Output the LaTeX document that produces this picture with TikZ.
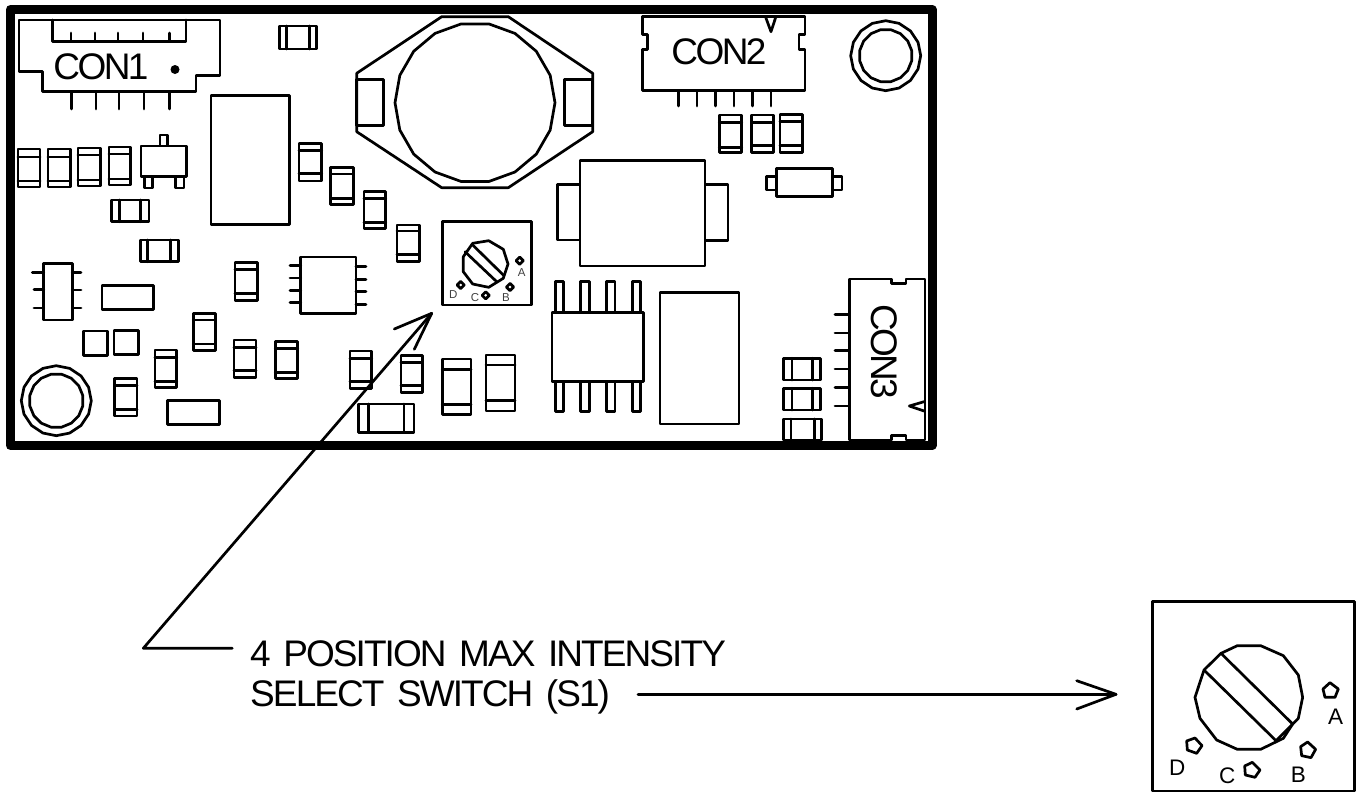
\documentclass[tikz,border=0pt]{standalone}
\usepackage{fontspec}
\setmainfont{Liberation Sans}
\newfontfamily\calloutfont[WordSpace=1.5,LetterSpace=-5.2]{Liberation Sans}
\newfontfamily\conlabelfont[LetterSpace=-7]{Liberation Sans}
\tikzset{
  part/.style={line width=2.7pt,line join=round,line cap=round},
  leader/.style={line width=2.7pt,line join=round,line cap=round},
  board/.style={line width=9pt,line join=round},
  biglabel/.style={inner sep=0pt,font=\conlabelfont\fontsize{37}{37}\selectfont},
  calllabel/.style={inner sep=0pt,anchor=base west,font=\calloutfont\fontsize{37}{37}\selectfont},
  smalllet/.style={inner sep=0pt,text=black!75,font=\fontsize{11.5}{12}\selectfont},
  largelet/.style={inner sep=0pt,font=\fontsize{22.5}{23}\selectfont}
}
\newcommand{\vchipx}[6]{\draw[part] (#1,#2) rectangle (#3,#4) (#1,#5) -- (#3,#5) (#1,#6) -- (#3,#6);}
\newcommand{\hchipx}[6]{\draw[part] (#1,#2) rectangle (#3,#4) (#5,#2) -- (#5,#4) (#6,#2) -- (#6,#4);}
\newcommand{\boxx}[4]{\draw[part] (#1,#2) rectangle (#3,#4);}
\newcommand{\ngon}[6]{\draw[#6] plot[domain=0:360,samples=#5,shift={(#1,#2)}] ({#3*cos(\x+#4)},{#3*sin(\x+#4)}) -- cycle;}
\begin{document}
\begin{tikzpicture}[x=1pt,y=-1pt]
\useasboundingbox (0,0) rectangle (1359,793);
% board
\draw[board] (10.5,9.5) rectangle (932,445.5);
% CON1
\draw[part] (19,20) -- (220,20) -- (220,75.5) -- (196,75.5) -- (196,91.5) -- (42.7,91.5) -- (42.7,71.7) -- (19,71.7) -- cycle;
\draw[part] (52.7,20) -- (52.7,41.7) -- (186,41.7) -- (186,20);
\foreach \p in {71,95,118,143,169.5} \draw[part] (\p,33) -- (\p,41);
\foreach \p in {71.5,96,119,144,169.5} \draw[part] (\p,92) -- (\p,109);
\fill (175,69.5) circle (4.5);
\node[biglabel,anchor=base] (con1) at (101,79) {CON1};
% left chips
\vchipx{18}{149}{40}{187}{157}{181}
\vchipx{48}{149}{70.5}{187}{157}{181}
\vchipx{78}{148}{100.5}{186}{155}{180}
\vchipx{109}{147}{130.5}{185}{154}{179}
\boxx{141}{146}{186.7}{176.7}
\boxx{160}{135}{167.7}{146}
\boxx{144.3}{176.7}{152.3}{188}
\boxx{175.7}{176.7}{184}{188}
\hchipx{111.7}{200}{149}{221.7}{119.3}{140.7}
\hchipx{279.3}{26}{316.7}{49}{286.7}{309.3}
\boxx{211}{95.3}{289.3}{224.3}
\vchipx{299}{143.3}{321.7}{181}{150.7}{173.3}
% battery holder
\draw[part] (441.7,16.7) -- (508.3,16.7) -- (592.7,73.3) -- (592.7,131.7) -- (508.3,187.7) -- (441.7,187.7) -- (356.7,131.7) -- (356.7,73.3) -- cycle;
\boxx{356.7}{79.3}{383.3}{125.7}
\boxx{564.3}{79.3}{592.7}{125.7}
\ngon{475}{102.7}{80}{0}{19}{part}
% diagonal chips
\vchipx{330.7}{167.3}{353.3}{204.3}{174}{198.3}
\vchipx{364}{191.7}{385.7}{228.3}{198.3}{222.3}
\vchipx{397}{225}{419.3}{261.7}{231}{254.3}
% small switch
\boxx{442.7}{221.7}{531.3}{305}
\draw[part] (472.7,243.3) -- (488.7,240.7) -- (503.3,249.3) -- (508,264) -- (503.3,278.3) -- (488.7,287.3) -- (472.7,284) -- (463.3,271.7) -- (463.3,256.7) -- cycle;
\draw[part] (472.7,245) -- (504,275.7) (465,251.7) -- (496.7,281.7);
\ngon{519.7}{260.7}{3.6}{0}{5}{part}
\ngon{460.7}{285}{3.6}{0}{5}{part}
\ngon{485.7}{295.3}{3.6}{0}{5}{part}
\ngon{510}{287}{3.6}{0}{5}{part}
\node[smalllet,anchor=base] (sa) at (521.7,276.5) {A};
\node[smalllet,anchor=base] (sd) at (453.3,298.5) {D};
\node[smalllet,anchor=base] (sc) at (475,301.5) {C};
\node[smalllet,anchor=base] (sb) at (506,301.5) {B};
% transformer
\boxx{557.3}{184.3}{580}{240}
\boxx{705}{184.3}{728}{240.5}
\boxx{580}{160.7}{705}{266}
% CON2
\draw[part] (642.3,16.7) -- (805,16.7) -- (805,34.3) -- (799,34.3) -- (799,49.3) -- (805,49.3) -- (805,90.7) -- (642.3,90.7) -- (642.3,49.3) -- (647.7,49.3) -- (647.7,34.3) -- (642.3,34.3) -- cycle;
\draw[part] (765.7,17.3) -- (771,31.7) -- (775.7,17.3);
\foreach \p in {678.7,697,715.7,734,752.7,771} \draw[part] (\p,91) -- (\p,106);
\node[biglabel,anchor=base] (con2) at (719,64) {CON2};
\vchipx{719.3}{115}{741.7}{152.7}{122.3}{147.3}
\vchipx{751.7}{115}{773.3}{152.7}{122.3}{145.7}
\vchipx{780}{114.3}{802.3}{152.3}{121.7}{145.7}
% diode
\boxx{766.7}{176.7}{776.7}{190}
\boxx{832.7}{176.7}{842}{190}
\boxx{776.7}{168.3}{832.7}{196.7}
% mount holes
\ngon{885.7}{55.7}{35}{90}{17}{part}
\ngon{885.7}{55.7}{26.5}{11.25}{17}{part}
\ngon{56.3}{400.7}{35}{90}{17}{part}
\ngon{56.3}{400.7}{27}{11.25}{17}{part}
% lower-left
\hchipx{140.3}{240}{178.3}{261.7}{147.7}{170.7}
\boxx{43.7}{263.3}{72.3}{320}
\foreach \p/\q in {32.3/272.3,34/289.3,34/308} \draw[part] (\p,\q) -- (43.7,\q);
\foreach \q in {272.3,290,308} \draw[part] (72.3,\q) -- (81,\q);
\boxx{102}{285.3}{153.7}{309.3}
\vchipx{235}{262.7}{257.3}{300.3}{269.3}{293.3}
\boxx{300.7}{257}{356}{313.3}
\foreach \q in {265.3,278,290.7,302.7} \draw[part] (290,\q) -- (300.7,\q);
\foreach \q in {266.7,279.3,291.7,304.3} \draw[part] (356,\q) -- (366,\q);
\boxx{83.3}{331}{107.7}{355.3}
\boxx{114}{330.3}{138.3}{354.7}
\vchipx{193.3}{313.3}{215.3}{350.7}{320}{344}
\vchipx{155}{350}{176.7}{387.7}{357.3}{381.7}
\vchipx{234}{340}{256}{377.3}{347.3}{370.7}
\vchipx{275.3}{341.3}{297.7}{378.7}{348.3}{372.7}
\vchipx{114.7}{378.3}{137}{416}{385.7}{409.3}
\boxx{167.7}{400.3}{219.7}{424.3}
% lower centre
\vchipx{350}{351}{371.7}{388.3}{358.3}{381.7}
\vchipx{401}{355.7}{422.3}{392.3}{362.3}{385.7}
\vchipx{442.3}{359}{471}{414.3}{369.3}{404.3}
\vchipx{486}{355}{515}{411}{365}{400.7}
\hchipx{358.3}{404}{414}{432.3}{368.3}{404}
% SOIC
\foreach \a/\b in {555.7/563.3,580.7/589.3,606.7/615,632.7/640.7} {
  \boxx{\a}{281.7}{\b}{312.3}
  \boxx{\a}{381.7}{\b}{411.7}
}
\boxx{552}{312.3}{643.3}{381.7}
\boxx{660}{292.7}{739}{424}
% CON3
\draw[part] (849.3,279) -- (891.7,279) -- (891.7,283.3) -- (906,283.3) -- (906,279) -- (925,279) -- (925,440) -- (906,440) -- (906,435.7) -- (891.7,435.7) -- (891.7,440) -- (849.3,440) -- cycle;
\foreach \q in {314.3,333,350.7,369,387.7,406} \draw[part] (835,\q) -- (849.3,\q);
\draw[part] (924,401.7) -- (909.3,406) -- (924,411);
\node[biglabel,anchor=base,rotate=-90] (con3) at (871.7,351.7) {CON3};
\hchipx{783.3}{358.3}{820.7}{380}{792}{812.7}
\hchipx{783.3}{388.3}{820.7}{410}{792}{812.7}
\hchipx{783.3}{419}{821.7}{440}{791}{814.3}
% callout
\node[calllabel] (l1) at (250,666) {4 POSITION MAX INTENSITY};
\node[calllabel] (l2) at (250,706.5) {SELECT SWITCH (S1)};
\coordinate (tipa) at (431.7,313.3);
\coordinate (bara) at (394.3,329);
\coordinate (barb) at (414.3,349.3);
\coordinate (elbow) at (143.3,648.3);
\coordinate (ends) at (232.3,648.3);
\draw[leader] (ends) -- (elbow) -- (tipa);
\draw[leader] (bara) -- (tipa) -- (barb);
\coordinate (st) at (638,694.3);
\coordinate (tipb) at (1116,694.3);
\coordinate (barc) at (1076.7,680.7);
\coordinate (bard) at (1076.7,709);
\draw[leader] (st) -- (tipb);
\draw[leader] (barc) -- (tipb) -- (bard);
% big switch
\begin{scope}[shift={(1140,590)},x=.3333pt,y=-.3333pt]
\draw[part] (37,35) rectangle (643,603);
\draw[part] (292,167) -- (362,167) -- (430,197) -- (475,255) -- (488,322) -- (475,385) -- (458,402) -- (430,445) -- (362,478) -- (292,478) -- (230,450) -- (180,385) -- (165,322) -- (192,240) -- (243,190) -- cycle;
\draw[part] (243,190) -- (458,402) (192,240) -- (408,452) -- (458,402);
\draw[part] (570,278) -- (595,297) -- (585,322) -- (555,322) -- (549,297) -- cycle;
\draw[part] (503,456) -- (527,478) -- (513,503) -- (485,497) -- (482,470) -- cycle;
\draw[part] (337,517) -- (360,540) -- (345,562) -- (316,555) -- (314,528) -- cycle;
\draw[part] (165,444) -- (186,467) -- (170,490) -- (142,480) -- (140,453) -- cycle;
\node[largelet,anchor=base] (ba) at (587,405) {A};
\node[largelet,anchor=base] (bb) at (475,578) {B};
\node[largelet,anchor=base] (bc) at (262,581) {C};
\node[largelet,anchor=base] (bd) at (112,557) {D};
\end{scope}
\end{tikzpicture}
\end{document}
